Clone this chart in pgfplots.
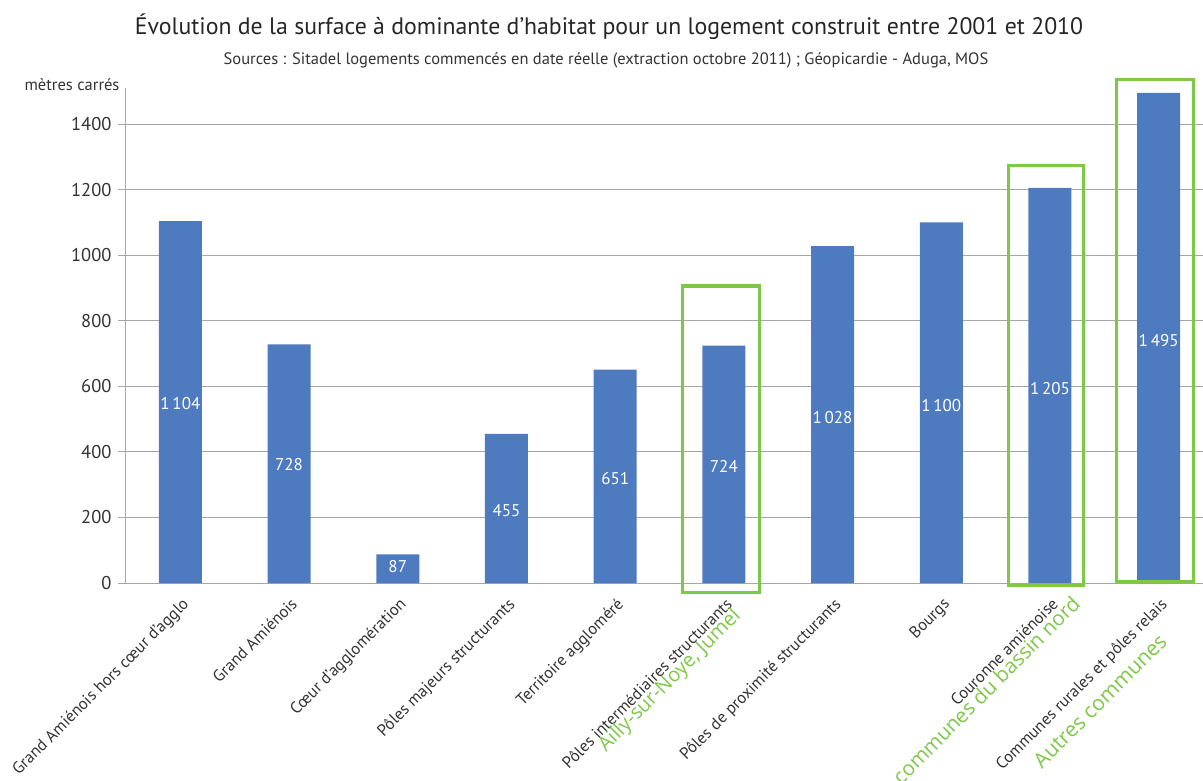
\documentclass[border=0pt]{standalone}
\usepackage{pgfplots}
\pgfplotsset{compat=1.18}
\usepackage{pgfplotstable}
\usepackage{fontspec}
\setmainfont{PT Sans}
\newfontfamily\greenfont{Open Sans}
\definecolor{barblue}{HTML}{4E7AC0}
\definecolor{annotgreen}{HTML}{7DC846}
\definecolor{txtgray}{HTML}{333333}
\definecolor{gridgray}{HTML}{A6A6A6}

\pgfplotstableread{
x y
0 1104
1 728
2 87
3 455
4 651
5 724
6 1028
7 1100
8 1205
9 1495
}\bars

\pgfplotstableread{
x y lab
0 548 1\,104
1 360 728
2 50 87
3 222 455
4 320 651
5 356 724
6 505 1\,028
7 542 1\,100
8 594 1\,205
9 740 1\,495
}\labs

\begin{document}
\begin{tikzpicture}
\begin{axis}[
  at={(126pt,197pt)}, anchor=south west,
  scale only axis, width=1087pt, height=495pt,
  xmin=-0.5, xmax=9.5, ymin=0, ymax=1510,
  axis x line*=bottom, axis y line*=left,
  axis line style={gridgray, line width=1pt},
  clip=false,
  ytick={0,200,...,1400},
  ymajorgrids, grid style={gridgray, line width=1pt},
  xtick={0,...,9},
  xticklabels={Grand Amiénois hors cœur d'agglo, Grand Amiénois, Cœur d'agglomération, Pôles majeurs structurants, Territoire aggloméré, Pôles intermédiaires structurants, Pôles de proximité structurants, Bourgs, Couronne amiénoise, Communes rurales et pôles relais},
  minor xtick={-0.5,0.5,...,9.5},
  xtick style={draw=none},
  minor tick style={gridgray, line width=1pt},
  ytick style={gridgray, line width=1pt},
  tick align=outside,
  major tick length=8pt, minor tick length=8pt,
  /pgf/number format/assume math mode=true,
  /pgf/number format/1000 sep={},
  yticklabel style={font=\fontsize{18.5}{22}\selectfont, text=txtgray, xshift=-3pt},
  xticklabel style={font=\fontsize{16.5}{19}\selectfont, text=txtgray, rotate=45, anchor=north east, xshift=0pt, yshift=-1pt},
]
\addplot[ybar, bar width=43pt, fill=barblue, draw=none] table[x=x, y=y] {\bars};
\addplot[only marks, mark=none, nodes near coords, point meta=explicit symbolic,
  every node near coord/.style={anchor=center, text=white, font=\fontsize{17}{20}\selectfont}]
  table[x=x, y=y, meta=lab] {\labs};
\draw[annotgreen, line width=3pt] (axis cs:4.62,-30) rectangle (axis cs:5.33,906);
\draw[annotgreen, line width=3pt] (axis cs:7.62,-9) rectangle (axis cs:8.31,1275);
\draw[annotgreen, line width=3pt] (axis cs:8.61,6) rectangle (axis cs:9.32,1537);
\end{axis}
\node[text=black!85, font=\fontsize{23.8}{28}\selectfont] at (609pt,753pt) {Évolution de la surface à dominante d'habitat pour un logement construit entre 2001 et 2010};
\node[text=txtgray, font=\fontsize{16.5}{19}\selectfont] at (606pt,720pt) {Sources : Sitadel logements commencés en date réelle (extraction octobre 2011) ; Géopicardie - Aduga, MOS};
\node[text=txtgray, font=\fontsize{16.5}{19}\selectfont] at (72pt,695pt) {mètres carrés};
\node[text=annotgreen, rotate=45, font=\greenfont\fontsize{20}{23}\selectfont] at (670pt,99pt) {Ailly-sur-Noye, Jumel};
\node[text=annotgreen, rotate=45, font=\greenfont\fontsize{20.5}{24}\selectfont] at (986pt,90pt) {communes du bassin nord};
\node[text=annotgreen, rotate=45, font=\greenfont\fontsize{21}{24}\selectfont] at (1100pt,79pt) {Autres communes};
\pgfresetboundingbox
\path[use as bounding box] (0,0) rectangle (1203pt,780pt);
\end{tikzpicture}
\end{document}
